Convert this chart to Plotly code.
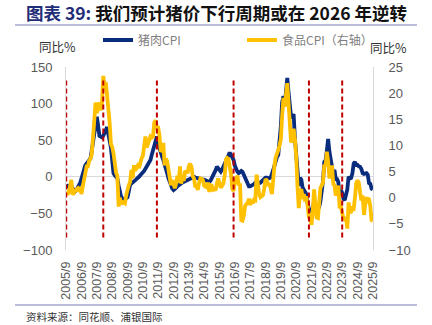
import plotly.graph_objects as go

# ---------------- data ----------------
start_year, start_month = 2005, 9

pork_cpi = [
    -11, -12, -14, -12,
    -12, -16, -19, -20, -18, -15, -13, -8, -2, 5, 10, 16,
    18, 20, 22, 25, 35, 45, 60, 72, 82, 70, 56, 55,
    54, 56, 60, 65, 68, 58, 48, 40, 22, 5, 2, -1,
    -2, -12, -22, -27, -30, -32, -31, -30, -28, -20, -11, -9,
    -8, -7, -5, -3, -2, 0, 2, 4, 5, 8, 11, 14,
    16, 19, 23, 30, 36, 41, 50, 55, 45, 38, 32, 28,
    23, 15, 10, 5, -2, -8, -13, -16, -18, -17, -15, -13,
    -11, -10, -9, -8, -7, -6, -5, -5, -4, -3, -2, -1,
    0, -1, -2, -2, -2, -3, -3, -4, -4, -5, -6, -6,
    -7, -5, -2, 2, 5, 9, 14, 11, 9, 7, 10, 14,
    18, 22, 27, 30, 33, 30, 27, 23, 15, 9, 7, 5,
    7, 8, 7, 3, 0, -4, -9, -13, -13, -12, -12, -10,
    -8, -7, -8, -9, -8, -6, -4, -2, -1, -1, -2, -2,
    -1, 3, 9, 15, 23, 27, 30, 46.7, 69.3, 101.3, 110.2, 97,
    116, 135.2, 116.4, 96.9, 81.7, 81.6, 85.7, 52.6, 25.5, -2.8, -12.5, -1.3,
    -3.9, -14.9, -18.4, -21.4, -23.8, -36.5, -43.5, -44.9, -46.9, -44.0, -32.7, -36.7,
    -41.6, -42.5, -41.4, -33.3, -21.1, -6.0, 20.2, 22.4, 36.0, 51.8, 34.4, 22.2,
    11.8, 3.4, 9.6, -3.1, -3.2, -7.2, -26.0, -17.9, -22.0, -30.1, -31.8, -26.1,
    -17.3, 0.3, -2.4, -1.5, 4.6, 18.1, 20.4, 16.1, 16.1, 14.2, 13.7, 10.7,
    4.9, 4.0, 5.1, 5.1, 3.1, -8.5, -9.5, -16.1, -17.0,
]

food_cpi = [
    1.2, 0.6, 1.0, 2.0,
    3.4, 0.6, 1.0, 1.5, 1.6, 1.8, 1.2, 2.1, 0.7, 2.2, 3.5, 4.7,
    6.0, 6.0, 7.1, 7.4, 8.3, 11.4, 15.4, 18.2, 16.2, 17.6, 18.2, 16.7,
    18.2, 23.3, 21.4, 22.1, 19.9, 17.3, 14.4, 10.3, 9.7, 8.5, 5.9, 4.8,
    4.2, -1.7, 0.0, -1.3, -0.8, -1.0, -1.1, 0.5, 1.7, 2.4, 3.0, 5.3,
    3.7, 6.2, 5.2, 5.9, 6.1, 5.7, 6.8, 7.5, 8.0, 10.1, 11.7, 9.6,
    10.3, 11.0, 11.7, 11.5, 11.7, 14.4, 14.8, 13.4, 13.4, 11.9, 8.8, 9.1,
    10.5, 6.2, 7.5, 7.0, 5.7, 3.8, 2.4, 3.4, 2.5, 1.8, 2.7, 4.2,
    2.9, 6.0, 2.7, 4.0, 3.2, 4.9, 5.0, 4.7, 6.1, 6.5, 5.9, 4.1,
    3.7, 2.0, 2.3, 1.5, 2.8, 3.7, 3.6, 3.4, 2.3, 2.2, 2.0, 2.9,
    1.1, 2.4, 2.3, 1.5, 1.6, 1.6, 2.7, 3.7, 2.7, 1.9, 2.3, 2.7,
    4.1, 7.3, 7.6, 7.4, 5.9, 4.6, 1.7, 1.3, 3.2, 3.6, 4.2, 2.4,
    2.7, -4.3, -4.4, -3.5, -1.6, -1.2, -1.1, -0.2, -1.4, -0.4, -1.1, -0.4,
    -0.5, 4.4, 2.1, 0.7, 0.1, 0.3, 0.5, 1.7, 3.6, 3.3, 2.5, 2.5,
    1.9, 0.7, 4.1, 6.1, 7.7, 8.3, 9.1, 10.0, 11.2, 15.5, 19.1, 17.4,
    20.6, 21.9, 18.3, 14.8, 10.6, 11.1, 13.2, 11.2, 7.9, 2.2, -2.0, 1.2,
    1.6, -0.2, 0.7, -0.7, 0.3, -1.7, -3.7, -4.1, -5.2, -2.4, 1.6, -1.2,
    -3.8, -3.9, -1.5, 1.9, 2.3, 2.9, 6.3, 6.1, 8.8, 7.0, 3.7, 4.8,
    6.2, 2.6, 2.4, 0.4, 1.0, 2.3, -1.7, -1.7, -3.2, -4.0, -4.2, -3.7,
    -5.9, -0.9, -2.7, -2.7, -2.0, -2.1, 0.0, 2.8, 3.3, 2.9, 1.0, -0.5,
    0.4, -3.3, -1.4, -0.2, -0.2, -0.3, -1.6, -4.3, -4.4,
]

turning_points = ["2005-09-01", "2008-02-01", "2011-08-01", "2016-08-01", "2021-07-01", "2023-09-01"]
tick_years = list(range(2005, 2026))
tick_labels = [f"{y}/9" for y in tick_years]

series_names = ["猪肉CPI", "食品CPI（右轴）"]
title_prefix = "图表 39:"
title_main = "我们预计猪价下行周期或在 2026 年逆转"
unit_label = "同比%"
source_text = "资料来源：同花顺、浦银国际"

# ---------------- build ----------------
dates = []
for i in range(len(pork_cpi)):
    m = start_month - 1 + i
    dates.append(f"{start_year + m // 12}-{m % 12 + 1:02d}-01")

W, H = 432, 325
ML, MR, MT, MB = 66, 59, 67, 75
PW, PH = W - ML - MR, H - MT - MB

def px(x):
    return (x - ML) / PW

def py(y):
    return (H - MB - y) / PH

FONT = "Liberation Sans, Noto Sans CJK SC, sans-serif"
CJK = "Noto Sans CJK SC, sans-serif"

fig = go.Figure()
fig.add_trace(go.Scatter(x=dates, y=pork_cpi, name=series_names[0], mode="lines",
                         line=dict(color="#0A2C7C", width=3.8), yaxis="y"))
fig.add_trace(go.Scatter(x=dates, y=food_cpi, name=series_names[1], mode="lines",
                         line=dict(color="#FFC000", width=3.8), yaxis="y2"))

shapes = []
for d in turning_points:
    shapes.append(dict(type="line", xref="x", yref="y", x0=d, x1=d, y0=-83, y1=132,
                       line=dict(color="#C00000", width=2, dash="5px,3px"), layer="above"))
# decorative rules
shapes.append(dict(type="line", xref="paper", yref="paper", x0=px(15), x1=px(417), y0=py(25), y1=py(25),
                   line=dict(color="#A7A7CF", width=1.5)))
shapes.append(dict(type="line", xref="paper", yref="paper", x0=px(15), x1=px(417), y0=py(305), y1=py(305),
                   line=dict(color="#A7A7CF", width=1.5)))

annotations = [
    dict(text=f"<b><span style='color:#1F2C78'>{title_prefix}</span> {title_main}</b>",
         xref="paper", yref="paper", x=px(24), y=py(13), xanchor="left", yanchor="middle",
         showarrow=False, font=dict(family=CJK, size=17.5, color="#111111")),
    dict(text=unit_label, xref="paper", yref="paper", x=px(37), y=py(46), xanchor="left", yanchor="middle",
         showarrow=False, font=dict(family=CJK, size=12.5, color="#333333")),
    dict(text=unit_label, xref="paper", yref="paper", x=px(368), y=py(47), xanchor="left", yanchor="middle",
         showarrow=False, font=dict(family=CJK, size=12.5, color="#333333")),
    dict(text=source_text, xref="paper", yref="paper", x=px(24), y=py(316), xanchor="left", yanchor="middle",
         showarrow=False, font=dict(family=CJK, size=10.5, color="#333333")),
]

fig.update_layout(
    width=W, height=H,
    margin=dict(l=ML, r=MR, t=MT, b=MB),
    paper_bgcolor="white", plot_bgcolor="white",
    font=dict(family=FONT, color="#595959"),
    showlegend=True,
    legend=dict(orientation="h", x=px(98), y=py(40), xanchor="left", yanchor="middle",
                font=dict(family=CJK, size=12, color="#7F7F7F"),
                entrywidth=99, entrywidthmode="pixels", bgcolor="rgba(0,0,0,0)",
                itemclick=False),
    xaxis=dict(type="date", range=["2005-08-27", "2025-09-04"],
               tickvals=[f"{y}-09-01" for y in tick_years], ticktext=tick_labels,
               tickangle=-90, tickfont=dict(size=12.5, color="#595959"),
               showgrid=False, showline=False, zeroline=False, ticks="",
               ticklabelstandoff=8),
    yaxis=dict(range=[-100, 150], dtick=50, tick0=0, showgrid=False,
               zeroline=True, zerolinecolor="#D9D9D9", zerolinewidth=1,
               showline=True, linecolor="#D9D9D9", linewidth=1, ticks="",
               tickfont=dict(size=13, color="#595959"), ticklabelstandoff=10),
    yaxis2=dict(range=[-10, 25], dtick=5, tick0=0, overlaying="y", side="right",
                showgrid=False, zeroline=False,
                showline=True, linecolor="#D9D9D9", linewidth=1, ticks="",
                tickfont=dict(size=13, color="#595959"), ticklabelstandoff=12),
    shapes=shapes,
    annotations=annotations,
)

fig.write_html("out.html")
